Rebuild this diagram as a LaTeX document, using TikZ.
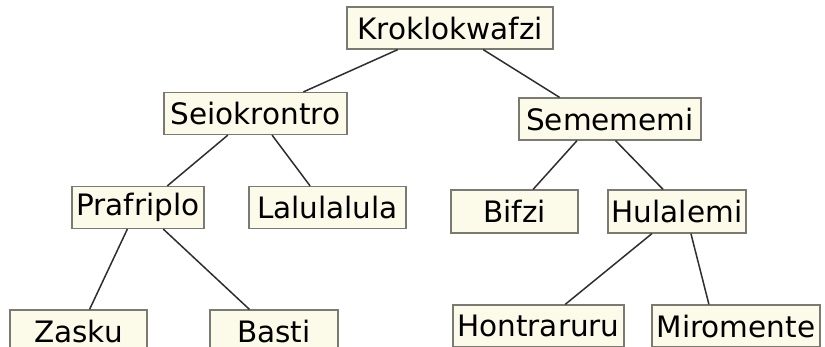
\documentclass[tikz,border=0pt]{standalone}
\usepackage{fontspec}
\setmainfont{DejaVu Sans}
\usetikzlibrary{calc}
\definecolor{boxfill}{HTML}{FCFAE8}
\definecolor{boxline}{HTML}{7A7A72}
\definecolor{edgeline}{HTML}{2E2E2E}

\newcommand{\branch}[4]{%
\draw[edge] ($(#1.south west)!#2!(#1.south east)$) -- ($(#3.north west)!#4!(#3.north east)$);}

\begin{document}
\begin{tikzpicture}[x=1pt,y=-1pt,
  word/.style={draw=boxline, line width=1.2pt, fill=boxfill, inner sep=0pt,
    minimum height=42pt, font=\fontsize{29.5}{34}\selectfont},
  edge/.style={draw=edgeline, line width=1.5pt}]
\useasboundingbox (0,0) rectangle (825,346);
\node[word, minimum width=206pt] (kro) at (450,28) {Kroklokwafzi};
\node[word, minimum width=183pt] (sei) at (255.5,113.5) {Seiokrontro};
\node[word, minimum width=182pt] (sem) at (610,119) {Semememi};
\node[word, minimum width=132pt] (pra) at (138,207.5) {Prafriplo};
\node[word, minimum width=157pt] (lal) at (327.5,207.5) {Lalulalula};
\node[word, minimum width=127pt, minimum height=43pt] (bif) at (514.5,211.5) {Bifzi};
\node[word, minimum width=138pt, minimum height=43pt] (hul) at (677,211.5) {Hulalemi};
\node[word, minimum width=137pt] (zas) at (78.5,331) {Zasku};
\node[word, minimum width=128pt] (bas) at (274,331) {Basti};
\node[word, minimum width=171pt] (hon) at (538.5,326) {Hontraruru};
\node[word, minimum width=168pt] (mir) at (736,326) {Miromente};
% links
\branch{kro}{0.248}{sei}{0.76}
\branch{kro}{0.66}{sem}{0.225}
\branch{sei}{0.35}{pra}{0.72}
\branch{sei}{0.59}{lal}{0.39}
\branch{sem}{0.32}{bif}{0.645}
\branch{sem}{0.53}{hul}{0.40}
\branch{pra}{0.42}{zas}{0.58}
\branch{pra}{0.69}{bas}{0.31}
\branch{hul}{0.32}{hon}{0.655}
\branch{hul}{0.60}{mir}{0.34}
\end{tikzpicture}
\end{document}
